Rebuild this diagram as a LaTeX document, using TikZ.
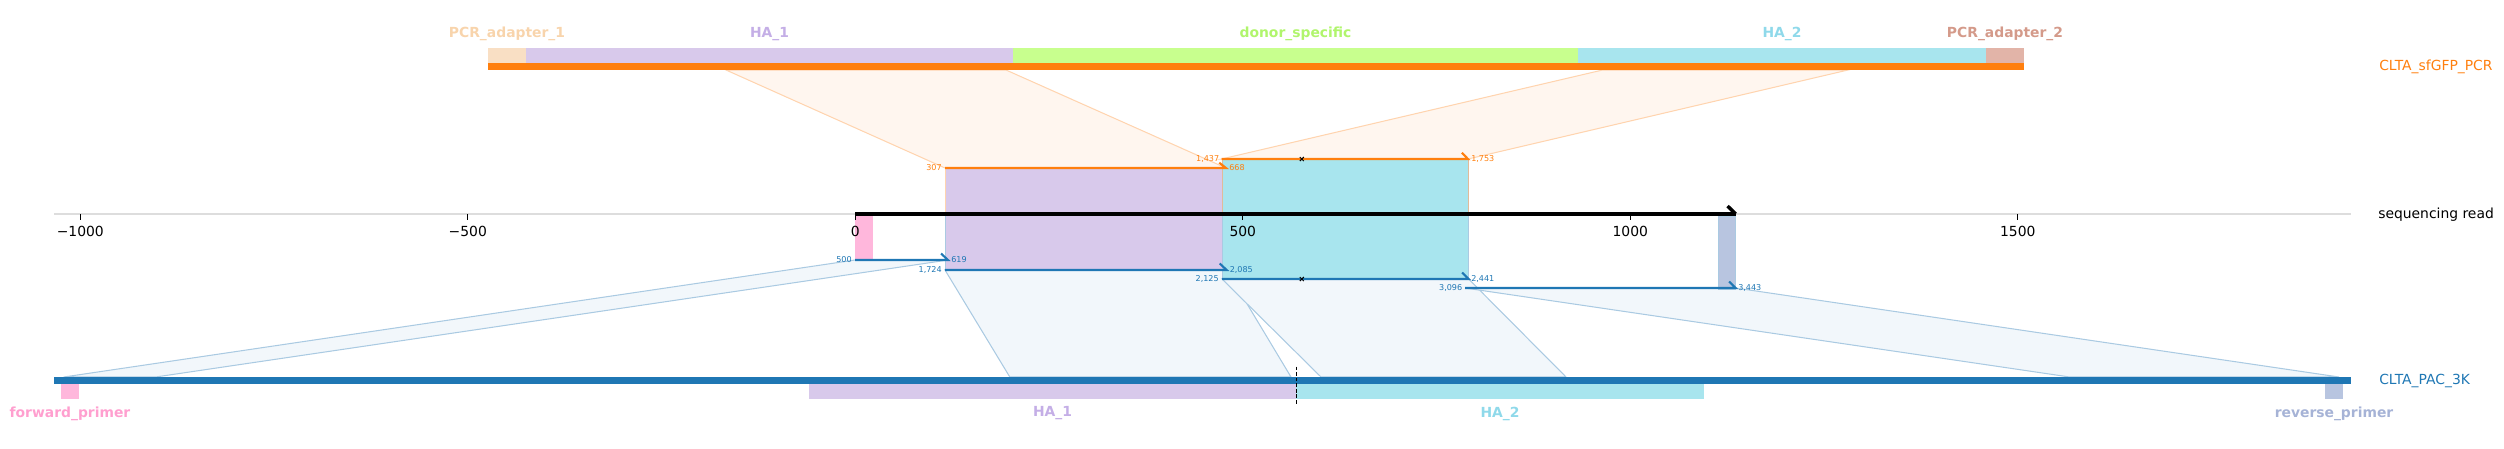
\documentclass[tikz,border=0pt]{standalone}
\usepackage{fontspec}
\setmainfont{DejaVu Sans}
\definecolor{tabor}{RGB}{255,127,14}
\definecolor{tabbl}{RGB}{31,119,180}
\definecolor{orfill}{RGB}{255,246,239}
\definecolor{oredge}{RGB}{255,212,175}
\definecolor{blfill}{RGB}{242,247,251}
\definecolor{bledge}{RGB}{170,202,226}
\definecolor{pa1}{RGB}{249,223,196}
\definecolor{pa1t}{RGB}{248,212,172}
\definecolor{ha1}{RGB}{216,201,235}
\definecolor{ha1t}{RGB}{196,174,230}
\definecolor{don}{RGB}{200,255,142}
\definecolor{dont}{RGB}{176,245,108}
\definecolor{ha2}{RGB}{168,229,238}
\definecolor{ha2t}{RGB}{143,217,234}
\definecolor{pa2}{RGB}{226,180,168}
\definecolor{pa2t}{RGB}{212,154,138}
\definecolor{fwd}{RGB}{255,183,220}
\definecolor{fwdt}{RGB}{255,159,207}
\definecolor{rev}{RGB}{184,197,224}
\definecolor{revt}{RGB}{166,179,214}
\definecolor{axgray}{RGB}{221,221,221}
\begin{document}
\begin{tikzpicture}[x=0.72pt,y=-0.72pt,
  featlab/.style={font=\bfseries\fontsize{10}{12}\selectfont,inner sep=0},
  tracklab/.style={font=\fontsize{10}{12}\selectfont,inner sep=0,anchor=west},
  ticklab/.style={font=\fontsize{10}{12}\selectfont,inner sep=0},
  numlab/.style={font=\fontsize{5.8}{6.5}\selectfont,inner sep=0},
  olink/.style={fill=orfill,draw=oredge,line width=0.75pt},
  blink/.style={fill=blfill,draw=bledge,line width=0.75pt},
  ohit/.style={draw=tabor,line width=1.5pt},
  bhit/.style={draw=tabbl,line width=1.5pt},
  tickmark/.style={draw=black,line width=0.6pt},
  xmark/.style={draw=black,line width=0.7pt},
]
\useasboundingbox (0,0) rectangle (2504,448);

% ---------- coordinates of hits ----------
\coordinate (o1s) at (945,168);   \coordinate (o1e) at (1226,168);
\coordinate (o2s) at (1221.5,159);\coordinate (o2e) at (1468,159);
\coordinate (b0s) at (855,260);   \coordinate (b0e) at (948,260);
\coordinate (b1s) at (945,270);   \coordinate (b1e) at (1226.7,270);
\coordinate (b2s) at (1222,279);  \coordinate (b2e) at (1468.6,279);
\coordinate (b3s) at (1465,288);  \coordinate (b3e) at (1735.7,288);
% top track ends of links
\coordinate (t1s) at (726,70);    \coordinate (t1e) at (1006,70);
\coordinate (t2s) at (1602.6,70); \coordinate (t2e) at (1848,70);
% bottom track ends of links
\coordinate (d0s) at (63.8,377);  \coordinate (d0e) at (155.6,377);
\coordinate (d1s) at (1009.8,377);\coordinate (d1e) at (1291,377);
\coordinate (d2s) at (1321,377);  \coordinate (d2e) at (1566,377);
\coordinate (d3s) at (2069.7,377);\coordinate (d3e) at (2339,377);

% ---------- link polygons ----------
\path[olink] (t1s) -- (t1e) -- (o1e) -- (o1s) -- cycle;
\path[olink] (t2s) -- (t2e) -- (o2e) -- (o2s) -- cycle;
\path[blink] (b0s) -- (b0e) -- (d0e) -- (d0s) -- cycle;
\path[blink] (b1s) -- (b1e) -- (d1e) -- (d1s) -- cycle;
\path[blink] (b2s) -- (b2e) -- (d2e) -- (d2s) -- cycle;
\path[blink] (b3s) -- (b3e) -- (d3e) -- (d3s) -- cycle;

% ---------- top track ----------
\fill[pa1] (488,48) rectangle (526,63.3);
\fill[ha1] (526,48) rectangle (1013,63.3);
\fill[don] (1013,48) rectangle (1578,63.3);
\fill[ha2] (1578,48) rectangle (1986,63.3);
\fill[pa2] (1986,48) rectangle (2023.6,63.3);
\fill[tabor] (488,63.3) rectangle (2023.6,70);
\node[featlab,text=pa1t] (lpa1) at (507,34) {PCR\_adapter\_1};
\node[featlab,text=ha1t] (lha1) at (769.5,34) {HA\_1};
\node[featlab,text=dont] (ldon) at (1295.5,34) {donor\_specific};
\node[featlab,text=ha2t] (lha2) at (1782,34) {HA\_2};
\node[featlab,text=pa2t] (lpa2) at (2005,34) {PCR\_adapter\_2};
\node[tracklab,text=tabor] (ltop) at (2379,66.7) {CLTA\_sfGFP\_PCR};

% ---------- axis line ----------
\draw[axgray,line width=0.9pt] (54,214) -- (2351,214);
\node[tracklab] (lread) at (2378,214.3) {sequencing read};

% ---------- mapped boxes on the read ----------
\filldraw[fill=ha1,draw=oredge,line width=0.5pt] (945,168) rectangle (1226,214);
\filldraw[fill=ha1,draw=bledge,line width=0.5pt] (945,214) rectangle (1226,270);
\filldraw[fill=ha2,draw=oredge!70!black!40!oredge,line width=0.5pt] (1222,159) rectangle (1468,214);
\filldraw[fill=ha2,draw=bledge,line width=0.5pt] (1222,214) rectangle (1468,279);
\fill[fwd] (855,216) rectangle (873,260);
\filldraw[fill=rev,draw=bledge,line width=0.5pt] (1718.6,216) rectangle (1735.7,289);

% ---------- ticks and tick labels (on top) ----------
\foreach \v/\t in {-1000/{−1000},-500/{−500},0/0,500/500,1000/1000,1500/1500}{
  \draw[tickmark] ({855.3+0.775*\v},214) -- ({855.3+0.775*\v},219.5);
  \node[ticklab] at ({855.3+0.775*\v},231) {\t};
}

% black read line with half arrow
\draw[black,line width=2.5pt] (855,214) -- (1735.7,214);
\draw[black,line width=2.5pt] (1735.7,214) -- (1727.5,206);

% ---------- hit lines ----------
\draw[ohit] (o1s) -- (o1e) -- ++(-6.7,-5.3);
\draw[ohit] (o2s) -- (o2e) -- ++(-6.2,-6.3);
\draw[bhit] (b0s) -- (b0e) -- ++(-7,-6.5);
\draw[bhit] (b1s) -- (b1e) -- ++(-7,-6.5);
\draw[bhit] (b2s) -- (b2e) -- ++(-6.5,-6.5);
\draw[bhit] (b3s) -- (b3e) -- ++(-6.5,-6.5);

\node[numlab,text=tabor,anchor=east] at (942,168) {307};
\node[numlab,text=tabor,anchor=west] at (1229,168) {668};
\node[numlab,text=tabor,anchor=east] at (1219.5,159) {1,437};
\node[numlab,text=tabor,anchor=west] at (1471,159) {1,753};
\node[numlab,text=tabbl,anchor=east] at (852,260) {500};
\node[numlab,text=tabbl,anchor=west] at (951,260) {619};
\node[numlab,text=tabbl,anchor=east] at (942,270) {1,724};
\node[numlab,text=tabbl,anchor=west] at (1229.5,270) {2,085};
\node[numlab,text=tabbl,anchor=east] at (1219,279) {2,125};
\node[numlab,text=tabbl,anchor=west] at (1471,279) {2,441};
\node[numlab,text=tabbl,anchor=east] at (1462.5,288) {3,096};
\node[numlab,text=tabbl,anchor=west] at (1738,288) {3,443};

% x markers
\foreach \yy in {159,279}{
  \draw[xmark] (1299.8,\yy-2) -- (1303.8,\yy+2);
  \draw[xmark] (1299.8,\yy+2) -- (1303.8,\yy-2);
}

% ---------- bottom track ----------
\fill[tabbl] (54,377) rectangle (2351,384);
\fill[fwd] (61,384) rectangle (79,399);
\fill[ha1] (809,384) rectangle (1296,399);
\fill[ha2] (1296,384) rectangle (1703.7,399);
\fill[rev] (2325,384) rectangle (2342.8,399);
\draw[black,line width=0.6pt,dash pattern=on 2.6pt off 1.4pt] (1296.5,366.7) -- (1296.5,405);
\node[featlab,text=fwdt] (lfwd) at (70,413.5) {forward\_primer};
\node[featlab,text=ha1t] (lbha1) at (1052.5,413.5) {HA\_1};
\node[featlab,text=ha2t] (lbha2) at (1500,413.5) {HA\_2};
\node[featlab,text=revt] (lrev) at (2334,413.5) {reverse\_primer};
\node[tracklab,text=tabbl] (lbot) at (2379,380.5) {CLTA\_PAC\_3K};
\end{tikzpicture}
\end{document}
